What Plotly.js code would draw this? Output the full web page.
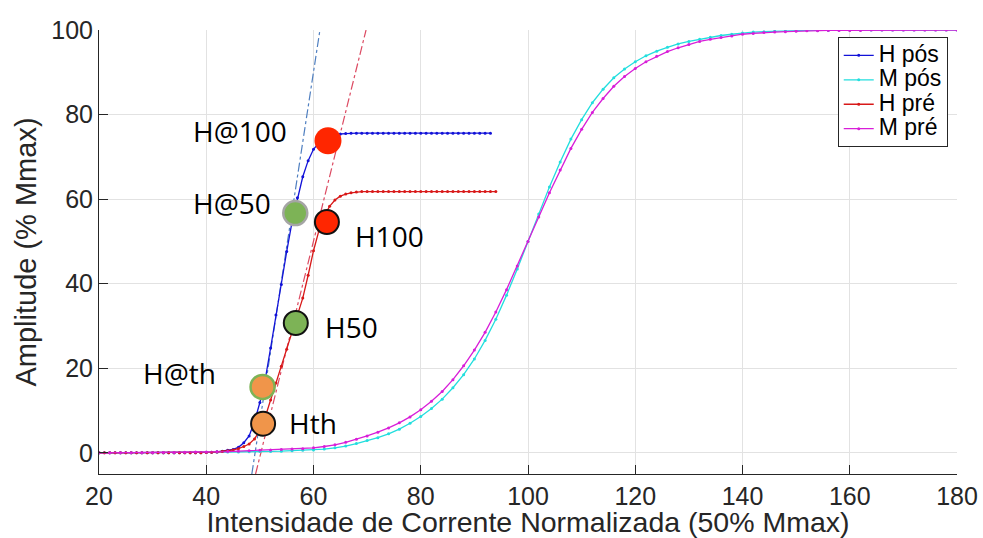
<!DOCTYPE html>
<html>
<head>
<meta charset="utf-8">
<script src="https://cdn.plot.ly/plotly-3.0.1.min.js"></script>
<style>html,body{margin:0;padding:0;background:#fff;}#chart{width:983px;height:538px;}</style>
</head>
<body>
<div id="chart"></div>
<script>
// ---- Data ----
const hPosX = [20,21,22,23,24,25,26,27,28,29,30,31,32,33,34,35,36,37,38,39,40,41,42,43,44,45,46,47,48,49,50,51,52,53,54,55,56,57,58,59,60,61,62,63,64,65,66,67,68,69,70,71,72,73,74,75,76,77,78,79,80,81,82,83,84,85,86,87,88,89,90,91,92,93];
const hPosY = [0,0,0,0,0,0,0,0,0,0,0,0,0,0,0,0,0,0,0,0.05,0.1,0.15,0.25,0.4,0.6,0.8,1.3,2.4,4.0,7.4,11.9,17.4,24.8,32.6,39.8,47.6,54.6,60.3,65.3,69.1,71.8,73.3,74.3,74.9,75.2,75.4,75.5,75.6,75.6,75.6,75.6,75.6,75.6,75.6,75.6,75.6,75.6,75.6,75.6,75.6,75.6,75.6,75.6,75.6,75.6,75.6,75.6,75.6,75.6,75.6,75.6,75.6,75.6,75.6];

const hPreX = [20,21,22,23,24,25,26,27,28,29,30,31,32,33,34,35,36,37,38,39,40,41,42,43,44,45,46,47,48,49,50,51,52,53,54,55,56,57,58,59,60,61,62,63,64,65,66,67,68,69,70,71,72,73,74,75,76,77,78,79,80,81,82,83,84,85,86,87,88,89,90,91,92,93,94];
const hPreY = [0,0,0,0,0,0,0,0,0,0,0,0,0,0,0,0,0,0,0,0.05,0.1,0.15,0.2,0.3,0.5,0.7,1.0,1.5,2.1,3.3,5.3,8.5,12.5,16.5,20.5,24.5,28.3,32.2,36.6,42.0,47.8,52.5,56.0,58.3,59.8,60.7,61.2,61.5,61.7,61.8,61.8,61.8,61.8,61.8,61.8,61.8,61.8,61.8,61.8,61.8,61.8,61.8,61.8,61.8,61.8,61.8,61.8,61.8,61.8,61.8,61.8,61.8,61.8,61.8,61.8];

const mX = [20,22,24,26,28,30,32,34,36,38,40,42,44,46,48,50,52,54,56,58,60,62,64,66,68,70,72,74,76,78,80,82,84,86,88,90,92,94,96,98,100,102,104,106,108,110,112,114,116,118,120,122,124,126,128,130,132,134,136,138,140,142,144,146,148,150,152,154,156,158,160,162,164,166,168,170,172,174,176,178,180];
const mPosY = [0,0,0,0,0,0,0.05,0.05,0.1,0.1,0.1,0.15,0.2,0.2,0.25,0.3,0.35,0.4,0.5,0.6,0.7,0.9,1.2,1.6,2.2,2.9,3.6,4.5,5.6,7.0,8.6,10.5,12.7,15.4,18.5,22.2,26.6,31.6,37.3,43.5,50.0,56.5,62.9,68.8,74.2,78.8,82.8,86.0,88.7,90.8,92.5,93.9,95.0,95.9,96.7,97.3,97.8,98.3,98.7,99.0,99.3,99.5,99.6,99.7,99.8,99.8,99.9,99.9,99.9,100,100,100,100,100,100,100,100,100,100,100,100];
const mPreY = [0,0,0,0,0.05,0.05,0.1,0.1,0.15,0.2,0.2,0.25,0.3,0.4,0.5,0.6,0.7,0.8,0.9,1.0,1.2,1.5,1.9,2.5,3.2,4.0,4.9,5.9,7.1,8.5,10.2,12.2,14.5,17.3,20.6,24.3,28.5,33.3,38.6,44.2,50.0,55.8,61.5,66.9,72.0,76.5,80.5,83.8,86.7,89.0,90.9,92.5,93.8,94.9,95.8,96.6,97.3,97.8,98.2,98.6,99.0,99.2,99.4,99.5,99.6,99.7,99.8,99.8,99.9,99.9,99.9,99.9,100,100,100,100,100,100,100,100,100];

// tangent (dash-dot) lines
const tanPosX = [48.5, 61.2];
const tanPosY = [-5, 100];
const tanPreX = [49.2, 69.8];
const tanPreY = [-5, 100];

// highlighted points
const ptLabels = ["H@th", "Hth", "H@50", "H50", "H@100", "H100"];
const ptX = [50.5, 50.6, 56.6, 56.7, 62.7, 62.5];
const ptY = [15.6, 6.9, 56.7, 30.7, 73.8, 54.6];

const seriesNames = ["H pós", "M pós", "H pré", "M pré"];
const xTicks = [20,40,60,80,100,120,140,160,180];
const yTicks = [0,20,40,60,80,100];
const xTitle = "Intensidade de Corrente Normalizada (50% Mmax)";
const yTitle = "Amplitude (% Mmax)";

// ---- Styles ----
const lineCols = ["#1212d8", "#22dede", "#d81818", "#d81ed8"];
const ptFill = ["#f0954a", "#f0954a", "#7db356", "#7db356", "#ff2600", "#ff2600"];
const ptLine = ["#7db356", "#111111", "#a5a5a5", "#111111", "#ff2600", "#111111"];
const ptLineW = [2.5, 2, 2.5, 2, 0, 2];
const ptSize = [24, 24, 24, 24, 27, 24];
// label placement in data coordinates (left-anchored)
const lblPos = [[27.9, 18.9], [55.1, 7.1], [37.2, 59.1], [61.8, 29.8], [37.2, 76.1], [67.4, 51.3]];

function curve(x, y, name, col) {
  return {x: x, y: y, name: '<span style="font-size:23px">' + name + '</span>',
    type: "scatter", mode: "lines+markers",
    line: {color: col, width: 1.3}, marker: {color: col, size: 3, opacity: 1}};
}

const traces = [
  {x: tanPosX, y: tanPosY, type: "scatter", mode: "lines", showlegend: false, hoverinfo: "skip",
   line: {color: "#4f7fc0", width: 1.2, dash: "dashdot"}},
  {x: tanPreX, y: tanPreY, type: "scatter", mode: "lines", showlegend: false, hoverinfo: "skip",
   line: {color: "#dc4a62", width: 1.2, dash: "dashdot"}},
  curve(hPosX, hPosY, seriesNames[0], lineCols[0]),
  curve(mX, mPosY, seriesNames[1], lineCols[1]),
  curve(hPreX, hPreY, seriesNames[2], lineCols[2]),
  curve(mX, mPreY, seriesNames[3], lineCols[3]),
  {x: ptX, y: ptY, type: "scatter", mode: "markers", showlegend: false, hoverinfo: "skip",
   opacity: 1,
   marker: {size: ptSize, color: ptFill, opacity: 1, line: {color: ptLine, width: ptLineW}}}
];

const annotations = ptLabels.map((t, i) => ({
  x: lblPos[i][0], y: lblPos[i][1], xref: "x", yref: "y", text: t, showarrow: false,
  xanchor: "left", yanchor: "middle",
  font: {family: "Open Sans", size: 28, color: "#000000"}
}));

const axisFont = {family: "Liberation Sans, Arial, sans-serif", size: 25, color: "#262626"};
const titleFont = {family: "Liberation Sans, Arial, sans-serif", size: 28.5, color: "#262626"};

const layout = {
  width: 983, height: 538,
  margin: {l: 99, r: 26, t: 30, b: 64},
  paper_bgcolor: "#ffffff", plot_bgcolor: "#ffffff",
  showlegend: true,
  legend: {x: 0.861, y: 0.984, xanchor: "left", yanchor: "top",
    bgcolor: "#ffffff", bordercolor: "#262626", borderwidth: 1,
    font: {family: "Liberation Sans, Arial, sans-serif", size: 16.5, color: "#000000"},
    tracegroupgap: 0},
  xaxis: {range: [20, 180], tickvals: xTicks, ticktext: xTicks.map(String),
    ticks: "inside", ticklen: 9, tickcolor: "#262626", tickwidth: 1,
    showline: true, linecolor: "#262626", linewidth: 1,
    showgrid: true, gridcolor: "#e2e2e2", gridwidth: 1, zeroline: false,
    tickfont: axisFont, automargin: false,
    title: {text: xTitle, font: titleFont, standoff: 0}},
  yaxis: {range: [-5, 100], tickvals: yTicks, ticktext: yTicks.map(String),
    ticks: "inside", ticklen: 9, tickcolor: "#262626", tickwidth: 1,
    showline: true, linecolor: "#262626", linewidth: 1,
    showgrid: true, gridcolor: "#e2e2e2", gridwidth: 1, zeroline: false,
    tickfont: axisFont, automargin: false,
    title: {text: yTitle, font: {family: "Liberation Sans, Arial, sans-serif", size: 29, color: "#262626"}, standoff: 6}},
  annotations: annotations
};

Plotly.newPlot("chart", traces, layout, {displayModeBar: false, staticPlot: true});
</script>
</body>
</html>
